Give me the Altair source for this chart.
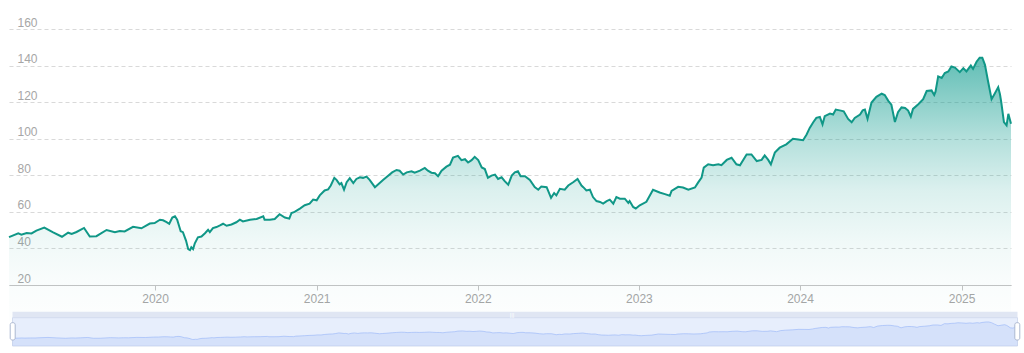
import altair as alt
import pandas as pd

dates = [
    "2019-02-04", "2019-02-25", "2019-03-04", "2019-03-16", "2019-03-27", "2019-04-07",
    "2019-04-25", "2019-05-15", "2019-06-04", "2019-06-18", "2019-06-26", "2019-07-07",
    "2019-07-24", "2019-08-06", "2019-08-21", "2019-09-13", "2019-10-02", "2019-10-13",
    "2019-10-24", "2019-11-12", "2019-12-01", "2019-12-20", "2019-12-31",
    "2020-01-12", "2020-01-19", "2020-01-27", "2020-02-02", "2020-02-09", "2020-02-15",
    "2020-02-20", "2020-02-28", "2020-03-04", "2020-03-11", "2020-03-16", "2020-03-20",
    "2020-03-23", "2020-03-27", "2020-03-31", "2020-04-07", "2020-04-15", "2020-04-23",
    "2020-04-30", "2020-05-04", "2020-05-11", "2020-05-19", "2020-05-27", "2020-06-03",
    "2020-06-11", "2020-06-22", "2020-07-03", "2020-07-11", "2020-07-18", "2020-08-03",
    "2020-08-18", "2020-09-02", "2020-09-05", "2020-09-17", "2020-09-28", "2020-10-09",
    "2020-10-21", "2020-10-31", "2020-11-05", "2020-11-12", "2020-11-24", "2020-12-05",
    "2020-12-16", "2020-12-24",
    "2021-01-01", "2021-01-08", "2021-01-19", "2021-01-27", "2021-02-02", "2021-02-10",
    "2021-02-15", "2021-02-22", "2021-02-26", "2021-03-04", "2021-03-10", "2021-03-17",
    "2021-03-25", "2021-04-01", "2021-04-09", "2021-04-16", "2021-04-24", "2021-05-01",
    "2021-05-13", "2021-05-20", "2021-06-01", "2021-06-12", "2021-06-21", "2021-07-01",
    "2021-07-08", "2021-07-16", "2021-07-24", "2021-08-04", "2021-08-11", "2021-08-23",
    "2021-09-03", "2021-09-10", "2021-09-18", "2021-09-26", "2021-10-03", "2021-10-11",
    "2021-10-22", "2021-10-30", "2021-11-06", "2021-11-17", "2021-11-25", "2021-12-03",
    "2021-12-10", "2021-12-18", "2021-12-25",
    "2022-01-02", "2022-01-10", "2022-01-17", "2022-01-24", "2022-02-01", "2022-02-09",
    "2022-02-16", "2022-02-24", "2022-03-03", "2022-03-11", "2022-03-19", "2022-03-26",
    "2022-04-02", "2022-04-08", "2022-04-18", "2022-04-29", "2022-05-10", "2022-05-18",
    "2022-05-25", "2022-06-06", "2022-06-16", "2022-06-23", "2022-06-28", "2022-07-06",
    "2022-07-17", "2022-07-25", "2022-08-05", "2022-08-15", "2022-08-24", "2022-08-28",
    "2022-09-04", "2022-09-12", "2022-09-19", "2022-09-27", "2022-10-05", "2022-10-12",
    "2022-10-20", "2022-10-27", "2022-11-04", "2022-11-11", "2022-11-19", "2022-11-30",
    "2022-12-08", "2022-12-11", "2022-12-19", "2022-12-25",
    "2023-01-03", "2023-01-18", "2023-02-02", "2023-02-17", "2023-03-01", "2023-03-12",
    "2023-03-16", "2023-03-31", "2023-04-11", "2023-04-23", "2023-05-08", "2023-05-15",
    "2023-05-23", "2023-05-28", "2023-06-07", "2023-06-18", "2023-06-30", "2023-07-07",
    "2023-07-19", "2023-07-30", "2023-08-10", "2023-08-18", "2023-09-02", "2023-09-13",
    "2023-09-25", "2023-10-06", "2023-10-13", "2023-10-21", "2023-10-27", "2023-11-05",
    "2023-11-16", "2023-12-01", "2023-12-16", "2023-12-28",
    "2024-01-08", "2024-01-16", "2024-01-23", "2024-01-31", "2024-02-07", "2024-02-15",
    "2024-02-21", "2024-02-26", "2024-03-09", "2024-03-16", "2024-03-22", "2024-03-31",
    "2024-04-09", "2024-04-19", "2024-04-27", "2024-05-04", "2024-05-16", "2024-05-22",
    "2024-05-27", "2024-06-02", "2024-06-11", "2024-06-22", "2024-07-04", "2024-07-11",
    "2024-07-19", "2024-07-26", "2024-08-03", "2024-08-10", "2024-08-18", "2024-08-26",
    "2024-09-02", "2024-09-08", "2024-09-13", "2024-09-25", "2024-10-06", "2024-10-14",
    "2024-10-25", "2024-10-31", "2024-11-03", "2024-11-09", "2024-11-17", "2024-11-24",
    "2024-12-02", "2024-12-09", "2024-12-17", "2024-12-28",
    "2025-01-05", "2025-01-12", "2025-01-22", "2025-01-27", "2025-02-04", "2025-02-11",
    "2025-02-17", "2025-02-23", "2025-03-02", "2025-03-10", "2025-03-17", "2025-03-25",
    "2025-03-29", "2025-04-01", "2025-04-07", "2025-04-13", "2025-04-17", "2025-04-23",
]

prices = [
    46.2, 48.2, 47.5, 48.4, 48.2, 49.7,
    51.4, 48.8, 46.4, 48.6, 47.9, 49.0,
    51.2, 46.5, 46.7, 50.1, 48.8, 49.5,
    49.3, 51.8, 51.0, 53.6, 53.9,
    55.7, 55.4, 54.4, 53.5, 56.9, 57.6,
    55.7, 49.4, 48.9, 44.3, 39.6, 39.1,
    40.6, 39.6, 42.8, 46.1, 46.5, 48.3,
    50.2, 48.9, 51.1, 51.7, 52.6, 53.5,
    52.4, 53.1, 54.3, 55.7, 54.8, 55.7,
    56.1, 57.6, 55.7, 55.7, 56.1, 58.7,
    56.9, 56.3, 59.4, 60.0, 61.8, 63.6,
    64.5, 66.7,
    66.3, 69.0, 71.7, 72.3, 74.4, 78.6,
    77.5, 75.0, 75.7, 72.1, 76.2, 78.4,
    75.7, 78.0, 78.9, 78.6, 79.3, 77.5,
    73.5, 75.0, 77.5, 79.8, 81.6, 82.9,
    82.5, 80.4, 81.6, 82.2, 81.4, 82.5,
    84.0, 82.5, 81.4, 81.1, 79.5, 82.5,
    84.7, 85.8, 89.7, 90.6, 88.3, 88.8,
    87.0, 88.3, 90.1,
    88.3, 84.3, 83.4, 78.6, 79.8, 80.4,
    78.0, 78.9, 76.8, 74.8, 79.8, 81.6,
    82.2, 79.5, 79.5, 77.5, 73.5, 72.1,
    73.9, 73.5, 67.7, 70.3, 69.0, 72.6,
    72.1, 74.4, 76.2, 78.0, 74.4, 73.5,
    71.7, 72.1, 68.1, 65.9, 65.4, 64.5,
    65.9, 66.7, 64.5, 68.1, 67.2, 67.2,
    64.9, 65.9, 62.7, 61.8,
    63.6, 65.5, 72.1, 70.6, 69.7, 68.8,
    71.5, 73.7, 73.3, 72.1, 73.3, 76.0,
    78.8, 84.2, 86.0, 85.5, 86.0, 85.5,
    88.4, 89.6, 86.0, 85.5, 91.4, 91.4,
    87.8, 88.4, 90.9, 88.4, 86.0, 92.4,
    95.1, 96.9, 100.0, 99.6,
    99.2, 102.3, 105.9, 109.0, 111.4, 111.9,
    107.8, 112.3, 113.7, 113.2, 115.9, 115.5,
    115.0, 110.8, 109.0, 111.4, 113.2, 115.5,
    115.9, 110.9, 119.8, 122.9, 124.6, 123.9,
    120.7, 118.6, 109.1, 114.5, 117.1, 116.8,
    115.4, 112.1, 116.3, 118.9, 121.6, 126.1,
    126.4, 123.9, 125.7, 134.1, 133.2, 135.9,
    136.8, 139.5, 138.9, 136.4,
    138.6, 136.8, 140.0, 138.2, 142.1, 144.3,
    144.3, 140.4, 131.4, 121.6, 124.6, 128.2,
    124.3, 119.8, 109.1, 107.3, 113.6, 108.2,
]

y_ticks = [20, 40, 60, 80, 100, 120, 140, 160]

df = pd.DataFrame({"date": dates, "price": prices})

W, H = 1002, 256
LINE = "#109787"
FONT = "Liberation Sans"
LABEL = "#a6a6a6"

x_main = alt.X(
    "date:T", title=None,
    scale=alt.Scale(type="utc", nice=False),
    axis=alt.Axis(format="%Y", tickCount={"interval": "year", "step": 1}, grid=False,
                  domainColor="#c4c4c4", tickColor="#c4c4c4", tickSize=5, labelPadding=3,
                  labelColor=LABEL, labelFontSize=12, labelFont=FONT,
                  labelFlush=False, labelOverlap=False),
)
y_main = alt.Y(
    "price:Q", title=None,
    scale=alt.Scale(domain=[20, 160], nice=False, zero=False),
    axis=alt.Axis(values=y_ticks, domain=False, ticks=False, tickSize=0,
                  labelAlign="left", labelBaseline="bottom", labelPadding=-8,
                  labelColor=LABEL, labelFontSize=12, labelFont=FONT,
                  gridColor="#d9d9d9", gridDash=[4, 3], gridWidth=1,
                  labelOverlap=False, labelFlush=False),
)

grad = alt.Gradient(
    gradient="linear", x1=0, x2=0, y1=0, y2=1,
    stops=[
        alt.GradientStop(offset=0.0, color="rgba(0,150,136,0.62)"),
        alt.GradientStop(offset=0.3, color="rgba(0,150,136,0.30)"),
        alt.GradientStop(offset=0.5, color="rgba(0,150,136,0.14)"),
        alt.GradientStop(offset=0.7, color="rgba(0,150,136,0.06)"),
        alt.GradientStop(offset=0.85, color="rgba(0,150,136,0.025)"),
        alt.GradientStop(offset=1.0, color="rgba(0,150,136,0.008)"),
    ],
)

area = alt.Chart(df).mark_area(color=grad).encode(x=x_main, y=y_main)
line = alt.Chart(df).mark_line(color=LINE, strokeWidth=2).encode(x=x_main, y=y_main)
main = alt.layer(area, line)

# data-zoom slider below the axis
one = alt.Data(values=[{}])
SX0, SX1 = 3.5, 1008.5
band = alt.Chart(one).mark_rect(color="#e0e6f3").encode(
    x=alt.value(SX0), x2=alt.value(SX1), y=alt.value(282.7), y2=alt.value(288.7))
body = alt.Chart(one).mark_rect(fill="#e7eefc", stroke="#d2dbee", strokeWidth=1).encode(
    x=alt.value(SX0), x2=alt.value(SX1), y=alt.value(288.7), y2=alt.value(317))
sx = alt.X("date:T", scale=alt.Scale(type="utc", nice=False, range=[SX0, SX1]), axis=None)
sy = alt.Y("price:Q", scale=alt.Scale(domain=[0, 170], range=[317, 288.7], nice=False, zero=False),
           axis=None)
sarea = alt.Chart(df).mark_area(fill="#8fb0f7", fillOpacity=0.2).encode(x=sx, y=sy)
sline = alt.Chart(df).mark_line(stroke="#8fb0f7", strokeWidth=0.8, strokeOpacity=0.7).encode(x=sx, y=sy)
hl = alt.Chart(one).mark_rect(fill="white", stroke="#acb8d1", strokeWidth=1, cornerRadius=2).encode(
    x=alt.value(1.2), x2=alt.value(6.2), y=alt.value(293.7), y2=alt.value(311))
hr = alt.Chart(one).mark_rect(fill="white", stroke="#acb8d1", strokeWidth=1, cornerRadius=2).encode(
    x=alt.value(1005.8), x2=alt.value(1010.8), y=alt.value(293.7), y2=alt.value(311))
grip = alt.Chart(one).mark_text(text="|||", color="white", fontSize=6, font=FONT).encode(
    x=alt.value(503), y=alt.value(286))
slider = alt.layer(band, body, sarea, sline, hl, hr, grip)

chart = (
    alt.layer(main, slider)
    .resolve_scale(x="independent", y="independent")
    .properties(
        width=W, height=H,
        padding={"left": 9, "top": 29, "right": 13, "bottom": 68},
        autosize=alt.AutoSizeParams(type="none"),
        background="white",
    )
    .configure_view(strokeWidth=0)
)

chart.save("out.html", embed_options={"renderer": "svg", "actions": False})
